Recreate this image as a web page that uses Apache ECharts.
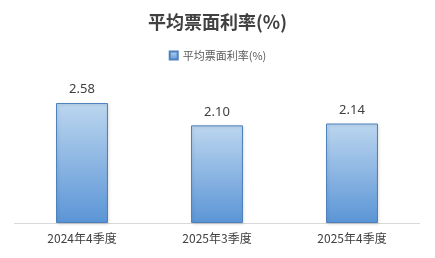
<!DOCTYPE html>
<html><head><meta charset="utf-8">
<script src="https://cdn.jsdelivr.net/npm/echarts@6/dist/echarts.min.js"></script>
<style>html,body{margin:0;padding:0;background:#fff}#c{width:435px;height:258px}</style>
</head><body><div id="c"></div>
<script>
var categories = ['2024年4季度', '2025年3季度', '2025年4季度'];
var values = [2.58, 2.10, 2.14];
var seriesName = '平均票面利率(%)';

var chart = echarts.init(document.getElementById('c'), null, {renderer: 'canvas'});
var grad = new echarts.graphic.LinearGradient(0, 0, 0, 1, [
  {offset: 0, color: '#bcd6ef'},
  {offset: 1, color: '#5b95d6'}
]);
chart.setOption({
  animation: false,
  title: {
    text: '平均票面利率(%)', left: 'center', top: 8,
    textStyle: {fontFamily: 'Noto Sans CJK SC', fontSize: 18, fontWeight: 'bold', color: '#404040'}
  },
  legend: {
    top: 45, left: 'center', itemWidth: 8, itemHeight: 8, itemGap: 4,
    textStyle: {fontFamily: 'Noto Sans CJK SC', fontSize: 11, color: '#595959'},
    data: [{name: seriesName, icon: 'rect'}]
  },
  grid: {left: 14.5, right: 15.5, top: 83.5, bottom: 35},
  xAxis: {
    type: 'category', data: categories,
    axisLine: {lineStyle: {color: '#d9d9d9'}},
    axisTick: {show: false},
    axisLabel: {fontFamily: 'Noto Sans CJK SC', fontSize: 12, color: '#404040', margin: 9}
  },
  yAxis: {type: 'value', min: 0, max: 3, show: false, splitLine: {show: false}},
  series: [{
    name: seriesName, type: 'bar', data: values, barWidth: '38.5%',
    itemStyle: {color: grad, borderColor: '#4f81bd', borderWidth: 1,
      shadowColor: 'rgba(0,0,0,0.15)', shadowBlur: 3, shadowOffsetX: 1, shadowOffsetY: 1},
    label: {show: true, position: 'top', distance: 7, formatter: function(p){return p.value.toFixed(2);},
      fontFamily: 'Noto Sans', fontSize: 13, color: '#404040'}
  }]
});
</script></body></html>
